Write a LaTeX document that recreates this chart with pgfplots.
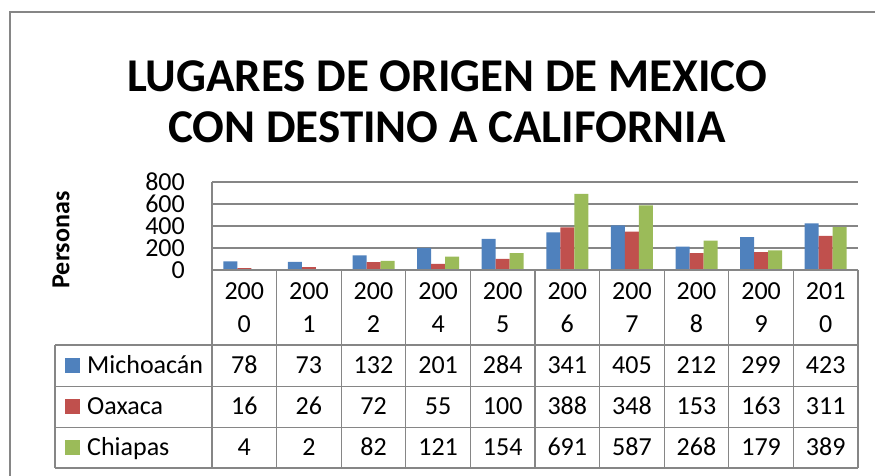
\documentclass[border=0pt]{standalone}
\usepackage{pgfplots}
\usepackage{pgfplotstable}
\pgfplotsset{compat=1.18}
\usepackage{fontspec}
\setmainfont{Carlito}
\definecolor{cblue}{HTML}{4F81BD}
\definecolor{cred}{HTML}{C0504D}
\definecolor{cgreen}{HTML}{9BBB59}
\definecolor{cgrid}{HTML}{868686}

\pgfplotstableread{
x ya yb mich oax chia
0 200 0 78 16 4
1 200 1 73 26 2
2 200 2 132 72 82
3 200 4 201 55 121
4 200 5 284 100 154
5 200 6 341 388 691
6 200 7 405 348 587
7 200 8 212 153 268
8 200 9 299 163 179
9 201 0 423 311 389
}\datatable

\begin{document}
\begin{tikzpicture}
\useasboundingbox (0,0) rectangle (875pt,476pt);
\begin{axis}[
  at={(212pt,206pt)}, anchor=south west,
  scale only axis, width=646pt, height=88pt,
  xmin=-0.5, xmax=9.5, ymin=0, ymax=800,
  axis lines*=left,
  axis line style={cgrid, line width=1.2pt, -},
  xtick=\empty, ytick={0,200,...,800},
  ymajorgrids, grid style={cgrid, line width=1.2pt},
  major tick length=0pt,
  yticklabel style={font=\fontsize{26}{26}\selectfont, inner sep=0pt, anchor=east, xshift=-27pt},
  /pgf/number format/assume math mode=true,
  ybar=0pt, bar width=14pt,
  clip=false,
]
\addplot[fill=cblue, draw=none] table[x=x,y=mich]{\datatable};
\addplot[fill=cred, draw=none] table[x=x,y=oax]{\datatable};
\addplot[fill=cgreen, draw=none] table[x=x,y=chia]{\datatable};
\end{axis}
\begin{scope}[x=1pt,y=1pt]
% chart border
\draw[cgrid, line width=1.5pt] (10,-5) -- (10,464) -- (880,464);
% title
\node[font=\fontsize{47}{52}\selectfont\bfseries, anchor=base] at (447,384) {LUGARES DE ORIGEN DE MEXICO};
\node[font=\fontsize{47}{52}\selectfont\bfseries, anchor=base] at (447,333) {CON DESTINO A CALIFORNIA};
% y label
\node[font=\fontsize{26}{26}\selectfont\bfseries, rotate=90] at (61,236) {Personas};
% table lines
\draw[cgrid, line width=1.2pt] (212,206) -- (858,206);
\foreach \yy in {131,89.5,48.5,8} \draw[cgrid, line width=1.2pt] (55,\yy) -- (858,\yy);
\draw[cgrid, line width=1.2pt] (55,131) -- (55,8);
\foreach \k in {0,...,10} \draw[cgrid, line width=1.2pt] (212+64.6*\k,206) -- (212+64.6*\k,8);
% legend keys
\fill[cblue] (65,102.8) rectangle (80,117.8);
\fill[cred] (65,61.5) rectangle (80,76.5);
\fill[cgreen] (65,20.8) rectangle (80,35.8);
\node[font=\fontsize{26}{26}\selectfont, anchor=base west, inner sep=0pt] at (87,102) {Michoacán};
\node[font=\fontsize{26}{26}\selectfont, anchor=base west, inner sep=0pt] at (87,61) {Oaxaca};
\node[font=\fontsize{26}{26}\selectfont, anchor=base west, inner sep=0pt] at (87,20) {Chiapas};
% table cells
\foreach \k in {0,...,9} {
  \pgfmathsetmacro{\cx}{212+64.6*(\k+0.5)}
  \pgfplotstablegetelem{\k}{ya}\of\datatable
  \node[font=\fontsize{26}{26}\selectfont, anchor=base, inner sep=0pt] at (\cx,176) {\pgfplotsretval};
  \pgfplotstablegetelem{\k}{yb}\of\datatable
  \node[font=\fontsize{26}{26}\selectfont, anchor=base, inner sep=0pt] at (\cx,143) {\pgfplotsretval};
  \pgfplotstablegetelem{\k}{mich}\of\datatable
  \node[font=\fontsize{26}{26}\selectfont, anchor=base, inner sep=0pt] at (\cx,102) {\pgfplotsretval};
  \pgfplotstablegetelem{\k}{oax}\of\datatable
  \node[font=\fontsize{26}{26}\selectfont, anchor=base, inner sep=0pt] at (\cx,61) {\pgfplotsretval};
  \pgfplotstablegetelem{\k}{chia}\of\datatable
  \node[font=\fontsize{26}{26}\selectfont, anchor=base, inner sep=0pt] at (\cx,20) {\pgfplotsretval};
}
\end{scope}
\end{tikzpicture}
\end{document}
